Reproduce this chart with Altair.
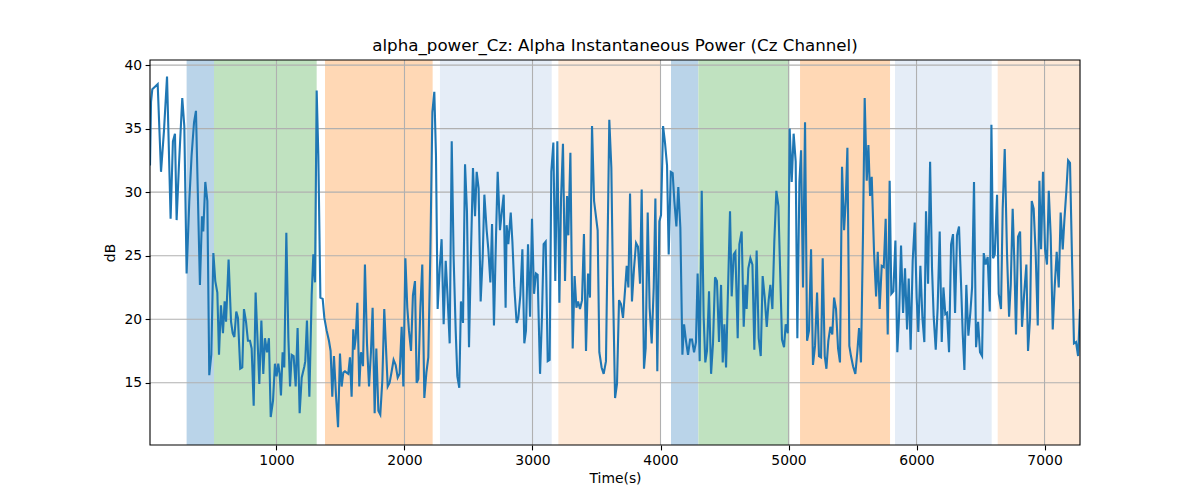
import altair as alt
import pandas as pd

# ---- line data (seconds, dB) ----
time_s = [12, 20, 30, 51, 72, 98, 121, 145, 173, 191, 207, 220, 238, 264, 280, 298, 319, 337, 356, 371,
          402, 418, 428, 444, 460, 475, 491, 507, 522, 538, 551, 566, 582, 595, 606, 626, 645, 658, 671, 686,
          699, 717, 733, 746, 762, 777, 793, 806, 822, 837, 866, 882, 897, 910, 926, 941,
          955, 973, 988, 1001, 1014, 1025, 1035, 1048, 1061, 1077, 1093, 1106, 1119, 1134, 1150, 1165, 1181,
          1197, 1218, 1225, 1238, 1257, 1275, 1288, 1301, 1314, 1327, 1343, 1361, 1374, 1392, 1410, 1423,
          1436, 1449, 1465, 1481, 1496, 1509, 1522, 1535, 1548, 1561, 1574, 1587, 1600, 1608, 1619, 1632,
          1647, 1660, 1676, 1691, 1707, 1723, 1738, 1751, 1767, 1780, 1796, 1811, 1827, 1842,
          1869, 1884, 1900, 1915, 1931, 1947, 1962, 1978, 1991, 2007, 2022, 2035, 2051, 2066, 2082, 2095,
          2108, 2124, 2139, 2155, 2171, 2186, 2202, 2218, 2233, 2246, 2259, 2275, 2290, 2306, 2322, 2337,
          2353, 2369, 2384, 2400, 2413, 2428, 2441, 2457, 2473, 2488, 2504, 2520, 2535, 2551, 2564, 2579,
          2595, 2611, 2624, 2642, 2655, 2671, 2684, 2699, 2715, 2728, 2746, 2762, 2775, 2790,
          2798, 2811, 2830, 2843, 2858, 2876, 2889, 2905, 2921, 2936, 2949, 2965, 2981, 2996, 3012, 3027,
          3040, 3059, 3074, 3087, 3103, 3119, 3134, 3147, 3163, 3178, 3194, 3210, 3223, 3238, 3254, 3270,
          3280, 3296, 3314, 3329, 3343, 3356, 3371, 3387, 3402, 3418, 3434, 3449, 3465, 3481, 3509, 3522,
          3540, 3556, 3574, 3600, 3616, 3629, 3645, 3660, 3676, 3691, 3707, 3723, 3736, 3749, 3762,
          3777, 3793, 3809, 3824, 3840, 3853, 3871, 3884, 3900, 3915, 3931, 3947, 3960, 3975, 3991, 4004,
          4020, 4035, 4051, 4064, 4080, 4095, 4108, 4124, 4139, 4155, 4171, 4184, 4199, 4215, 4231, 4246,
          4262, 4277, 4290, 4306, 4322, 4337, 4350, 4363, 4379, 4395, 4410, 4426, 4441, 4457, 4473, 4486,
          4499, 4512, 4527, 4543, 4556, 4572, 4585, 4603, 4616, 4634, 4650, 4663,
          4673, 4686, 4702, 4718, 4733, 4751, 4767, 4783, 4798, 4814, 4830, 4845, 4858, 4874, 4889, 4905,
          4921, 4934, 4949, 4965, 4978, 4994, 5009, 5025, 5040, 5056, 5069, 5085, 5098, 5113, 5129, 5145,
          5160, 5176, 5191, 5207, 5223, 5238, 5254, 5267, 5283, 5296, 5311, 5327, 5342, 5356, 5371, 5387,
          5402, 5418, 5434, 5447, 5460, 5475, 5488, 5504, 5522, 5538, 5551, 5566, 5582, 5595,
          5611, 5624, 5637, 5650, 5668, 5684, 5697, 5712, 5728, 5744, 5759, 5775, 5790, 5803, 5819, 5835,
          5850, 5863, 5879, 5895, 5910, 5926, 5939, 5954, 5970, 5986, 6001, 6014, 6030, 6046, 6061, 6074,
          6090, 6106, 6121, 6134, 6150, 6165, 6181, 6197, 6210, 6225, 6238, 6254, 6270, 6285, 6301, 6316,
          6332, 6348, 6361, 6374, 6389, 6405, 6421, 6434, 6449, 6465, 6481, 6496, 6512, 6525, 6540, 6556, 6572,
          6585, 6598, 6611, 6629, 6642, 6660, 6673, 6689, 6707, 6723, 6736, 6751, 6764, 6777, 6793, 6809,
          6824, 6840, 6858, 6871, 6887, 6900, 6915, 6931, 6947, 6960, 6973, 6988, 7004, 7019, 7033, 7048,
          7064, 7079, 7095, 7111, 7126, 7142, 7155, 7171, 7184, 7199, 7215, 7230, 7246, 7262, 7277]

power_db = [32.1, 37.1, 38.1, 38.3, 38.5, 31.6, 34.8, 39.1, 27.9, 34.0, 34.6, 27.8, 32.1, 37.4, 35.2, 23.6, 29.3, 32.9, 35.5, 36.4,
            22.7, 28.1, 26.9, 30.8, 29.3, 15.6, 17.2, 25.2, 23.0, 22.1, 17.2, 21.1, 18.9, 21.4, 19.8, 24.7, 19.8, 18.9, 18.6, 20.6,
            20.1, 16.1, 16.2, 20.8, 19.8, 18.3, 18.3, 17.7, 13.2, 22.1, 14.9, 19.9, 15.7, 18.5, 17.4, 18.5,
            12.3, 13.6, 16.5, 15.5, 16.5, 15.7, 14.0, 17.4, 16.2, 26.8, 18.5, 14.7, 17.2, 17.1, 14.7, 19.3, 12.6,
            15.4, 16.3, 16.7, 19.9, 13.9, 21.9, 25.1, 22.9, 38.0, 32.9, 21.7, 21.6, 20.1, 19.1, 18.3, 17.5,
            13.9, 17.1, 14.0, 11.5, 17.3, 14.7, 15.8, 15.9, 15.8, 15.7, 17.0, 13.9, 19.2, 17.6, 18.5, 21.3,
            14.7, 17.4, 16.3, 24.3, 18.1, 14.7, 17.4, 20.9, 12.6, 17.7, 12.8, 12.5, 15.2, 20.8,
            14.7, 15.0, 15.9, 16.8, 16.4, 15.4, 15.7, 19.4, 14.7, 24.8, 20.9, 19.1, 17.5, 21.9, 23.0, 15.0,
            15.3, 20.9, 24.3, 13.8, 15.8, 17.0, 25.2, 36.3, 37.9, 32.9, 20.8, 24.0, 26.3, 19.6, 24.6, 21.7,
            18.1, 34.0, 24.8, 19.1, 15.5, 14.6, 21.4, 19.7, 32.2, 28.5, 17.8, 25.5, 31.9, 28.1, 31.6, 30.3,
            21.4, 24.9, 29.8, 27.0, 25.5, 22.9, 27.5, 19.5, 26.5, 31.6, 27.0, 28.6, 29.8, 20.9,
            27.4, 25.9, 28.4, 26.1, 22.5, 19.7, 20.1, 21.9, 25.5, 18.1, 19.1, 25.9, 20.2, 27.9, 22.0, 23.6,
            23.5, 15.7, 20.2, 25.9, 26.1, 16.7, 16.8, 31.6, 33.9, 23.0, 34.0, 21.3, 29.5, 33.8, 23.0, 29.7,
            26.6, 33.1, 17.7, 23.4, 20.9, 21.4, 20.8, 21.5, 26.7, 17.5, 23.6, 21.7, 35.2, 29.3, 27.0, 17.4,
            16.2, 15.7, 16.7, 35.7, 31.9, 22.5, 13.8, 14.9, 21.5, 21.2, 20.1, 22.3, 24.2, 22.5, 29.9,
            21.4, 24.0, 26.0, 25.7, 22.8, 30.2, 16.1, 17.7, 28.4, 20.9, 18.1, 22.5, 29.5, 15.9, 27.7, 28.2,
            35.2, 33.9, 32.1, 25.1, 31.6, 31.5, 29.3, 27.3, 30.4, 27.2, 17.2, 19.6, 18.3, 17.2, 18.4, 18.4,
            17.4, 18.2, 23.6, 16.7, 30.1, 20.2, 16.6, 17.5, 22.2, 15.7, 18.1, 23.3, 23.0, 18.2, 22.7, 16.6,
            19.6, 16.2, 22.2, 28.5, 21.8, 25.1, 25.3, 18.5, 25.9, 26.9, 19.4, 22.7,
            20.8, 24.0, 24.8, 24.3, 17.6, 25.4, 18.5, 17.1, 23.4, 21.7, 19.4, 21.5, 22.7, 20.8, 26.1, 30.1,
            28.9, 24.0, 18.4, 17.8, 19.6, 18.9, 35.0, 30.8, 34.6, 32.4, 18.5, 30.8, 33.3, 22.5, 35.5, 18.3,
            19.1, 25.5, 16.4, 17.9, 22.1, 17.1, 17.0, 24.8, 17.1, 16.1, 18.3, 19.4, 18.8, 21.7, 20.8, 17.7,
            16.6, 32.0, 27.0, 29.3, 33.5, 17.9, 17.1, 16.3, 15.7, 17.5, 19.3, 16.6, 26.8, 37.4,
            30.9, 33.7, 29.7, 31.2, 25.3, 21.8, 25.3, 20.8, 24.2, 24.1, 27.9, 18.8, 30.9, 22.0, 22.2, 26.2,
            17.4, 20.1, 25.8, 20.5, 24.0, 19.2, 23.2, 17.6, 24.6, 27.6, 21.7, 19.0, 24.2, 20.1, 18.2, 28.5,
            22.8, 32.4, 24.0, 20.2, 17.6, 20.9, 26.9, 18.2, 22.5, 20.4, 20.5, 17.4, 25.9, 26.7, 20.5, 26.6,
            27.3, 22.7, 18.8, 16.0, 22.7, 18.7, 20.6, 22.5, 30.8, 17.8, 19.8, 17.4, 17.1, 25.2, 24.3, 24.9, 20.6,
            35.3, 24.8, 25.1, 29.8, 22.0, 20.8, 28.7, 33.4, 25.1, 20.2, 22.7, 28.7, 24.6, 18.8, 26.5, 26.9,
            19.4, 21.9, 24.3, 17.5, 20.1, 29.3, 28.7, 25.1, 19.5, 30.9, 25.5, 31.6, 25.5, 24.3, 30.1, 26.6,
            19.2, 22.5, 25.3, 22.5, 28.4, 25.5, 27.8, 30.2, 32.5, 32.3, 24.6, 18.1, 18.2, 17.1, 20.8]

# ---- shaded segments ----
span_start = [298, 512, 1379, 2277, 3202, 4082, 4296, 5090, 5832, 6634]
span_end = [512, 1314, 2220, 3150, 4001, 4296, 5007, 5793, 6587, 7277]
span_kind = ["A", "B", "C", "D", "E", "A", "B", "C", "D", "E"]
kind_names = ["A", "B", "C", "D", "E"]
kind_colors = ["#bad4e9", "#c0e2c0", "#ffd8b5", "#e5edf7", "#fee9d7"]

x_ticks = [1000, 2000, 3000, 4000, 5000, 6000, 7000]
y_ticks = [15, 20, 25, 30, 35, 40]

W, H = 930, 385

line_df = pd.DataFrame({"time_s": time_s, "power_db": power_db})
span_df = pd.DataFrame({"start": span_start, "end": span_end, "kind": span_kind})
xg_df = pd.DataFrame({"tick": x_ticks})
yg_df = pd.DataFrame({"tick": y_ticks})
frame_df = pd.DataFrame({"frame": [0]})

x_scale = alt.Scale(domain=[12, 7277], nice=False, zero=False)
y_scale = alt.Scale(domain=[10.1, 40.4], nice=False, zero=False)
x_axis = alt.Axis(title="Time(s)", values=x_ticks, format="d", grid=False)
y_axis = alt.Axis(title="dB", values=y_ticks, format="d", grid=False)

spans = alt.Chart(span_df).mark_rect(opacity=1, clip=True).encode(
    x=alt.X("start:Q", scale=x_scale, axis=x_axis),
    x2="end:Q",
    color=alt.Color("kind:N", scale=alt.Scale(domain=kind_names, range=kind_colors), legend=None),
)

xgrid = alt.Chart(xg_df).mark_rule(color="#b0b0b0", strokeWidth=1.1).encode(
    x=alt.X("tick:Q", scale=x_scale, axis=x_axis),
)
ygrid = alt.Chart(yg_df).mark_rule(color="#b0b0b0", strokeWidth=1.1).encode(
    y=alt.Y("tick:Q", scale=y_scale, axis=y_axis),
)

line = alt.Chart(line_df).mark_line(color="#1f77b4", strokeWidth=2.1, clip=True).encode(
    x=alt.X("time_s:Q", scale=x_scale, axis=x_axis),
    y=alt.Y("power_db:Q", scale=y_scale, axis=y_axis),
)

# axes box drawn on top (like matplotlib spines)
frame = alt.Chart(frame_df).mark_rect(filled=False, stroke="black", strokeWidth=1.1).encode(
    x=alt.value(0), x2=alt.value(W), y=alt.value(0), y2=alt.value(H),
)

chart = alt.layer(spans, xgrid, ygrid, line, frame).properties(
    width=W,
    height=H,
    background="white",
    title=alt.TitleParams(
        "alpha_power_Cz: Alpha Instantaneous Power (Cz Channel)",
        fontSize=16.7, font="DejaVu Sans", fontWeight="normal", color="black",
        anchor="middle", offset=3,
    ),
    autosize=alt.AutoSizeParams(type="none"),
    padding={"left": 142, "top": 52, "right": 112, "bottom": 47},
).configure_view(
    stroke=None
).configure_axis(
    domain=False,
    labelFont="DejaVu Sans", labelFontSize=13.9, labelColor="black",
    titleFont="DejaVu Sans", titleFontSize=13.9, titleFontWeight="normal", titleColor="black",
    tickColor="black", tickSize=4.9, tickWidth=1.1, labelPadding=3.5,
).configure_axisX(
    titlePadding=4,
).configure_axisY(
    titlePadding=6,
)

chart.save("out.html", embed_options={"renderer": "svg", "actions": False})
